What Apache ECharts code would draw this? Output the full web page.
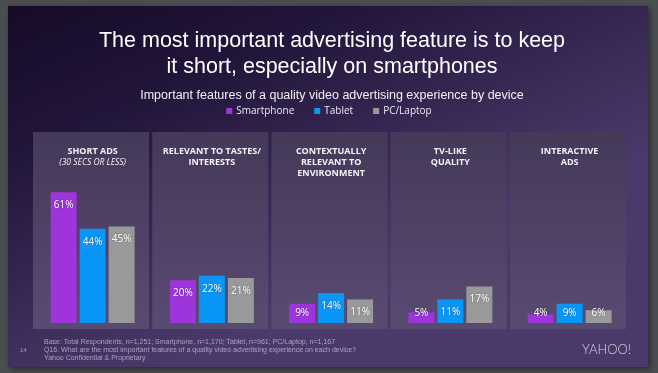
<!DOCTYPE html>
<html>
<head>
<meta charset="utf-8">
<script src="https://cdn.jsdelivr.net/npm/echarts@6/dist/echarts.min.js"></script>
<style>html,body{margin:0;padding:0;background:#4b4e51;}#c{width:658px;height:373px;}</style>
</head>
<body>
<div id="c"></div>
<script>
// ---- data ----
const categories = ['SHORT ADS', 'RELEVANT TO TASTES/\nINTERESTS', 'CONTEXTUALLY\nRELEVANT TO\nENVIRONMENT', 'TV-LIKE\nQUALITY', 'INTERACTIVE\nADS'];
const categoryNotes = ['(30 SECS OR LESS)', '', '', '', ''];
const seriesNames = ['Smartphone', 'Tablet', 'PC/Laptop'];
const smartphone = [61, 20, 9, 5, 4];
const tablet = [44, 22, 14, 11, 9];
const pcLaptop = [45, 21, 11, 17, 6];
const titleText = 'The most important advertising feature is to keep\nit short, especially on smartphones';
const subtitleText = 'Important features of a quality video advertising experience by device';
const footerLines = [
  'Base: Total Respondents, n=1,251; Smartphone, n=1,170; Tablet, n=961; PC/Laptop, n=1,167',
  'Q16. What are the most important features of a quality video advertising experience on each device?',
  'Yahoo Confidential & Proprietary'
];

// ---- layout / style ----
const colors = ['#9d34dc', '#0996f6', '#999999'];
const gridLeft = 33, gridWidth = 596.25, gridTop = 173, gridBottom = 50;
const pitch = gridWidth / categories.length;
const panelW = 116, panelTop = 132, panelBottom = 329;

function mkData(arr) {
  return arr.map(v => v < 11
    ? { value: v, label: { position: 'insideBottom', distance: 5 } }
    : { value: v });
}

const panels = categories.map((c, i) => ({
  type: 'rect', z: -5,
  shape: { x: gridLeft + i * pitch, y: panelTop, width: panelW, height: panelBottom - panelTop },
  style: { fill: new echarts.graphic.LinearGradient(0, 0, 0, 1, [
    { offset: 0, color: '#453959' }, { offset: 1, color: '#594a72' }]) },
  silent: true
}));

const chart = echarts.init(document.getElementById('c'), null, { renderer: 'canvas' });
chart.setOption({
  backgroundColor: '#4b4e51',
  animation: false,
  title: [
    { text: titleText, left: 327, top: 23, textAlign: 'center',
      textStyle: { color: '#ffffff', fontSize: 21.5, fontWeight: 'normal', lineHeight: 26, fontFamily: 'Liberation Sans' } },
    { text: subtitleText, left: 327, top: 84, textAlign: 'center',
      textStyle: { color: '#f2f0f5', fontSize: 12.5, fontWeight: 'normal', fontFamily: 'Liberation Sans' } }
  ],
  legend: {
    data: seriesNames, left: 'center', top: 101, icon: 'rect',
    itemWidth: 6, itemHeight: 6, itemGap: 20,
    textStyle: { color: '#ece8f2', fontSize: 10, fontFamily: 'Open Sans', padding: [0, 0, 0, -1] }
  },
  grid: { left: gridLeft, width: gridWidth, top: gridTop, bottom: gridBottom },
  xAxis: {
    type: 'category', data: categories, position: 'top',
    axisLine: { show: false }, axisTick: { show: false }, splitLine: { show: false },
    axisLabel: {
      interval: 0, margin: 27, verticalAlign: 'top', color: '#f4f1f7',
      fontSize: 9, fontWeight: 'bold', fontFamily: 'Open Sans', lineHeight: 11, align: 'center',
      formatter: (v, i) => categoryNotes[i] ? v + '\n{n|' + categoryNotes[i] + '}' : v,
      rich: { n: { fontStyle: 'italic', fontWeight: 'normal', fontSize: 8.5, fontFamily: 'Open Sans', color: '#f4f1f7', lineHeight: 11 } }
    }
  },
  yAxis: { type: 'value', min: 0, max: 70, show: false, splitLine: { show: false } },
  series: [smartphone, tablet, pcLaptop].map((arr, k) => ({
    name: seriesNames[k], type: 'bar', data: mkData(arr),
    barWidth: 26, barGap: '11.5%',
    itemStyle: { color: colors[k] },
    label: { show: true, position: 'insideTop', distance: 8, formatter: '{c}%',
      color: '#ffffff', fontSize: 10, fontFamily: 'Open Sans',
      textShadowColor: 'rgba(0,0,0,0.35)', textShadowBlur: 2 }
  })),
  graphic: [
    { type: 'rect', z: -10, silent: true,
      shape: { x: 8, y: 6, width: 640, height: 361 },
      style: { fill: new echarts.graphic.LinearGradient(0, 0, 0.25, 1, [
        { offset: 0, color: '#160b27' }, { offset: 0.35, color: '#22153a' },
        { offset: 1, color: '#4a3a6b' }]),
        shadowBlur: 6, shadowColor: 'rgba(0,0,0,0.5)', shadowOffsetX: 2, shadowOffsetY: 2 } },
    ...panels,
    ...footerLines.map((t, i) => ({
      type: 'text', z: 5, silent: true, left: 44, top: 339 + i * 8,
      style: { text: t, fill: 'rgba(205,195,222,0.75)', fontSize: 7, fontFamily: 'Liberation Sans' }
    })),
    { type: 'text', z: 5, silent: true, left: 20, top: 347,
      style: { text: '14', fill: 'rgba(205,195,222,0.7)', fontSize: 6, fontFamily: 'Liberation Sans' } },
    { type: 'text', z: 5, silent: true, left: 582, top: 343,
      style: { text: 'YAHOO!', fill: '#d6d2de', fontSize: 13, fontFamily: 'Lato', fontWeight: 300 } }
  ]
});
</script>
</body>
</html>
